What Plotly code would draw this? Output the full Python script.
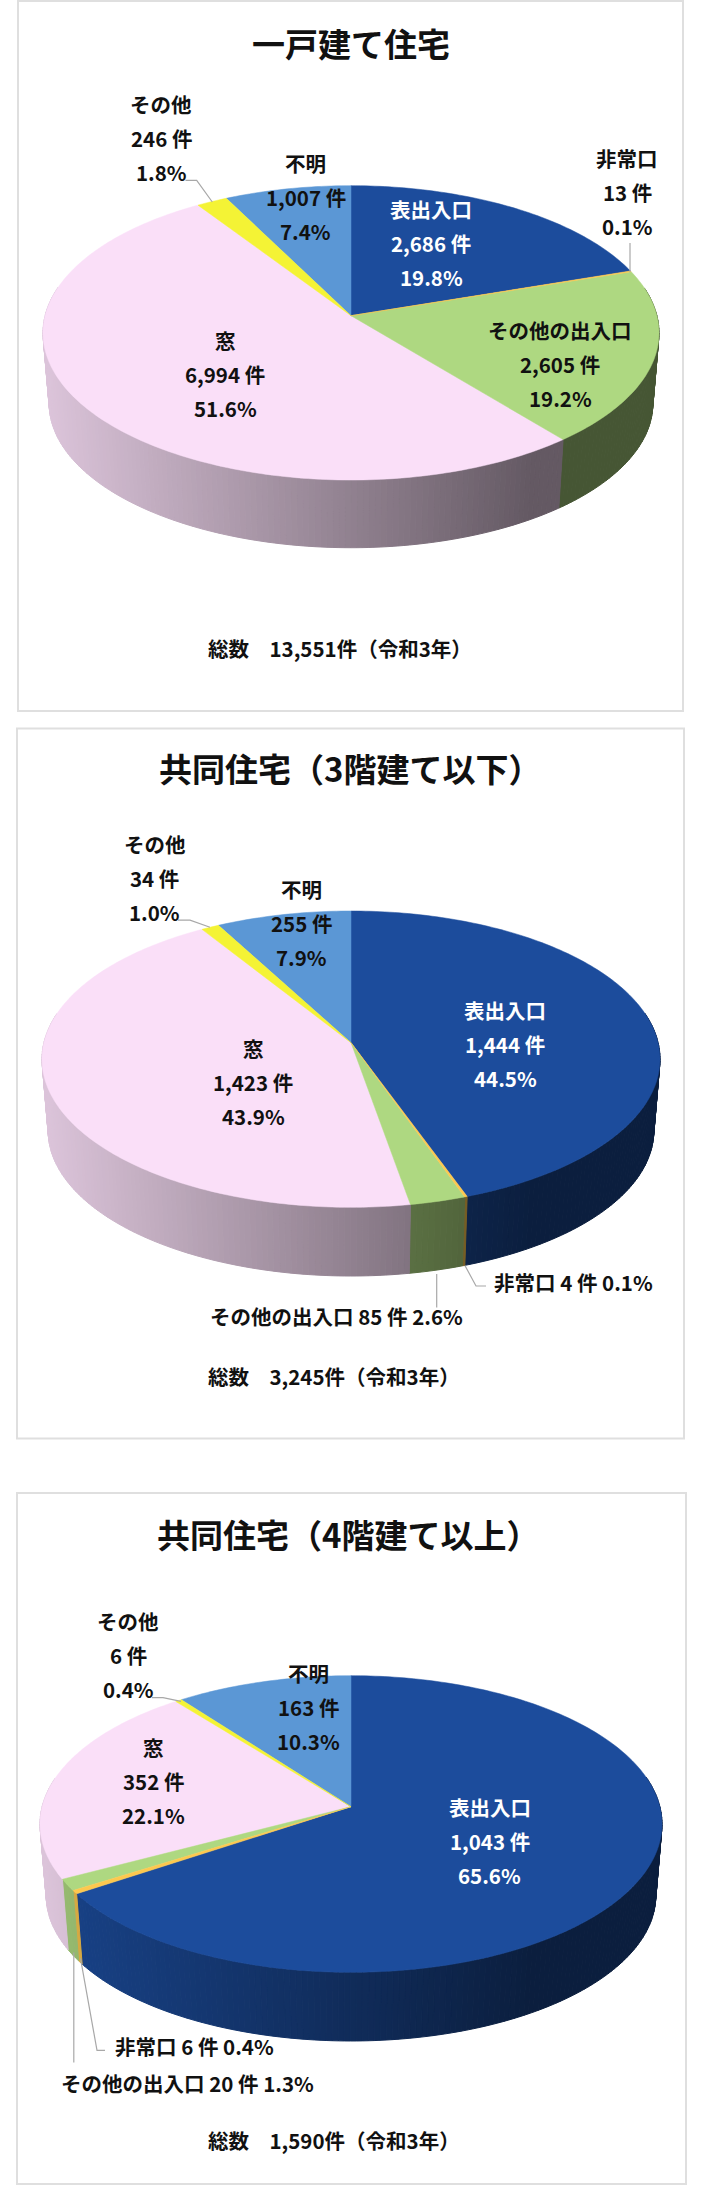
from math import cos, pi, sin

import plotly.graph_objects as go

# slice order is clockwise from 12 o'clock
categories = ["表出入口", "非常口", "その他の出入口", "窓", "その他", "不明"]
detached_counts = [2686, 13, 2605, 6994, 246, 1007]
low_rise_counts = [1444, 4, 85, 1423, 34, 255]
high_rise_counts = [1043, 6, 20, 352, 6, 163]
titles = ["一戸建て住宅", "共同住宅（3階建て以下）", "共同住宅（4階建て以上）"]
totals = [13551, 3245, 1590]
year_label = "令和3年"

FONT = "Noto Sans CJK JP"
COLORS = ["#1c4c9c", "#fdc84e", "#aed881", "#fadff8", "#f4f335", "#5b97d5"]
TEXT_COLOR = "#111111"
LEADER_COLOR = "#a8a8a8"
LINE_GAP = 34

PANELS = [
    {
        "counts": detached_counts,
        "box": (18, 1, 683, 711),
        "pie": {"cx": 351, "cy": 315.7, "rx": 308, "up": 130, "down": 164.3, "depth": 71},
        "title_at": (351, 42.6),
        "total_y": 647.8,
        # category index -> (x, first line y, one_line)
        "labels": {
            0: (431.4, 209, False),
            1: (627, 158, False),
            2: (560, 329.6, False),
            3: (225, 339.7, False),
            4: (161, 103.7, False),
            5: (305.8, 163.4, False),
        },
        "leaders": [
            [(185.5, 180.4), (196.7, 180.4), (212.3, 202)],
            [(630, 243), (630, 272)],
        ],
    },
    {
        "counts": low_rise_counts,
        "box": (17, 728.5, 684, 1438.5),
        "pie": {"cx": 351, "cy": 1042.7, "rx": 309, "up": 131.7, "down": 164.6, "depth": 72},
        "title_at": (350, 767.9),
        "total_y": 1375.9,
        "labels": {
            0: (505, 1010.4, False),
            1: (573.3, 1281.8, True),
            2: (336, 1316.3, True),
            3: (253, 1047.7, False),
            4: (154.7, 843.8, False),
            5: (301.3, 888.5, False),
        },
        "leaders": [
            [(178, 920.2), (190, 920.2), (210, 927.2)],
            [(465, 1265.6), (476, 1286), (486, 1286)],
            [(436.7, 1274), (436.7, 1307.5)],
        ],
    },
    {
        "counts": high_rise_counts,
        "box": (17, 1493, 686, 2184),
        "pie": {"cx": 351, "cy": 1806.7, "rx": 311, "up": 131, "down": 165.6, "depth": 72},
        "title_at": (348, 1533.9),
        "total_y": 2140,
        "labels": {
            0: (489.5, 1807, False),
            1: (194, 2046, True),
            2: (187, 2082.7, True),
            3: (153.8, 1747, False),
            4: (128.3, 1621.3, False),
            5: (308.4, 1672.6, False),
        },
        "leaders": [
            [(152, 1697.6), (163, 1697.6), (181, 1701.3)],
            [(80.5, 1958.4), (97, 2050.4), (105, 2050.4)],
            [(73.8, 1952.4), (73.8, 2062.4)],
        ],
    },
]


def project(pie, angle, bottom=False):
    # tilted circle with a little perspective, angle in radians clockwise from top
    k = (pie["down"] - pie["up"]) / (pie["down"] + pie["up"])
    a = pie["rx"] * (1 - k * k) ** 0.5
    b = pie["up"] * (1 + k)
    px, py = sin(angle), cos(angle)
    x = a * px / (1 + k * py)
    y = b * py / (1 + k * py)
    if bottom:
        return pie["cx"] + 0.98 * x, pie["cy"] + pie["depth"] - 0.98 * y
    return pie["cx"] + x, pie["cy"] - y


def shade(color, x, pie):
    # the rim goes from nearly full colour on the left to dark on the right
    left = pie["cx"] - pie["rx"]
    f = 0.88 - 0.48 * min(1, max(0, (x - left) / 490))
    rgb = [int(color[i : i + 2], 16) for i in (1, 3, 5)]
    return "rgb({},{},{})".format(*[round(c * f) for c in rgb])


def slice_angles(counts):
    total = sum(counts)
    start = 0
    spans = []
    for c in counts:
        end = start + c / total * 2 * pi
        spans.append((start, end))
        start = end
    return spans


def polygon(xs, ys, color, width=0.6):
    return go.Scatter(
        x=xs,
        y=ys,
        mode="lines",
        fill="toself",
        fillcolor=color,
        line={"color": color, "width": width, "simplify": False},
        hoverinfo="skip",
        showlegend=False,
    )


def add_pie(fig, panel):
    pie = panel["pie"]
    spans = slice_angles(panel["counts"])

    # rim first, the top surface covers whatever is hidden
    for i, (start, end) in enumerate(spans):
        steps = max(1, int((end - start) / (pi / 180)))
        for s in range(steps):
            a0 = start + (end - start) * s / steps
            a1 = start + (end - start) * (s + 1) / steps
            if cos((a0 + a1) / 2) > 0.2:
                continue
            x0, y0 = project(pie, a0)
            x1, y1 = project(pie, a1)
            x2, y2 = project(pie, a1, bottom=True)
            x3, y3 = project(pie, a0, bottom=True)
            color = shade(COLORS[i], (x0 + x1) / 2, pie)
            fig.add_trace(polygon([x0, x1, x2, x3, x0], [y0, y1, y2, y3, y0], color, width=1))

    # thin slices last so their neighbours do not paint over them
    order = sorted(range(len(spans)), key=lambda i: -panel["counts"][i])
    for i in order:
        start, end = spans[i]
        steps = max(2, int((end - start) / (pi / 180)))
        pts = [project(pie, start + (end - start) * s / steps) for s in range(steps + 1)]
        xs = [pie["cx"]] + [p[0] for p in pts] + [pie["cx"]]
        ys = [pie["cy"]] + [p[1] for p in pts] + [pie["cy"]]
        fig.add_trace(polygon(xs, ys, COLORS[i], width=0.5))


def add_text(fig, x, y, text, size=20.5, color=TEXT_COLOR, anchor="center"):
    fig.add_annotation(
        x=x,
        y=y,
        xref="x",
        yref="y",
        text=text,
        showarrow=False,
        xanchor=anchor,
        yanchor="middle",
        font={"family": FONT, "size": size, "color": color, "weight": "bold"},
    )


fig = go.Figure()

for idx, panel in enumerate(PANELS):
    x0, y0, x1, y1 = panel["box"]
    fig.add_shape(
        type="rect",
        x0=x0,
        y0=y0,
        x1=x1,
        y1=y1,
        xref="x",
        yref="y",
        line={"color": "#dfdfdf", "width": 2},
        fillcolor="white",
        layer="below",
    )

    add_pie(fig, panel)

    for leader in panel["leaders"]:
        fig.add_trace(
            go.Scatter(
                x=[p[0] for p in leader],
                y=[p[1] for p in leader],
                mode="lines",
                line={"color": LEADER_COLOR, "width": 1.2},
                hoverinfo="skip",
                showlegend=False,
            )
        )

    counts = panel["counts"]
    for i, name in enumerate(categories):
        x, y, one_line = panel["labels"][i]
        n = f"{counts[i]:,} 件"
        pct = f"{counts[i] / sum(counts) * 100:.1f}%"
        color = "white" if i == 0 else TEXT_COLOR
        if one_line:
            add_text(fig, x, y, f"{name} {n} {pct}", color=color)
        else:
            for j, line in enumerate([name, n, pct]):
                add_text(fig, x, y + j * LINE_GAP, line, color=color)

    add_text(fig, panel["title_at"][0], panel["title_at"][1], titles[idx], size=33)
    add_text(
        fig,
        206,
        panel["total_y"],
        f"総数　{totals[idx]:,}件（{year_label}）",
        anchor="left",
    )

fig.update_layout(
    width=701,
    height=2185,
    autosize=False,
    margin={"l": 0, "r": 0, "t": 0, "b": 0},
    paper_bgcolor="white",
    plot_bgcolor="white",
    showlegend=False,
    xaxis={"range": [0, 701], "visible": False, "fixedrange": True},
    yaxis={"range": [2185, 0], "visible": False, "fixedrange": True},
)

fig.write_html(
    "out.html",
    config={"displayModeBar": False},
    post_script="document.body.style.margin='0';",
)
